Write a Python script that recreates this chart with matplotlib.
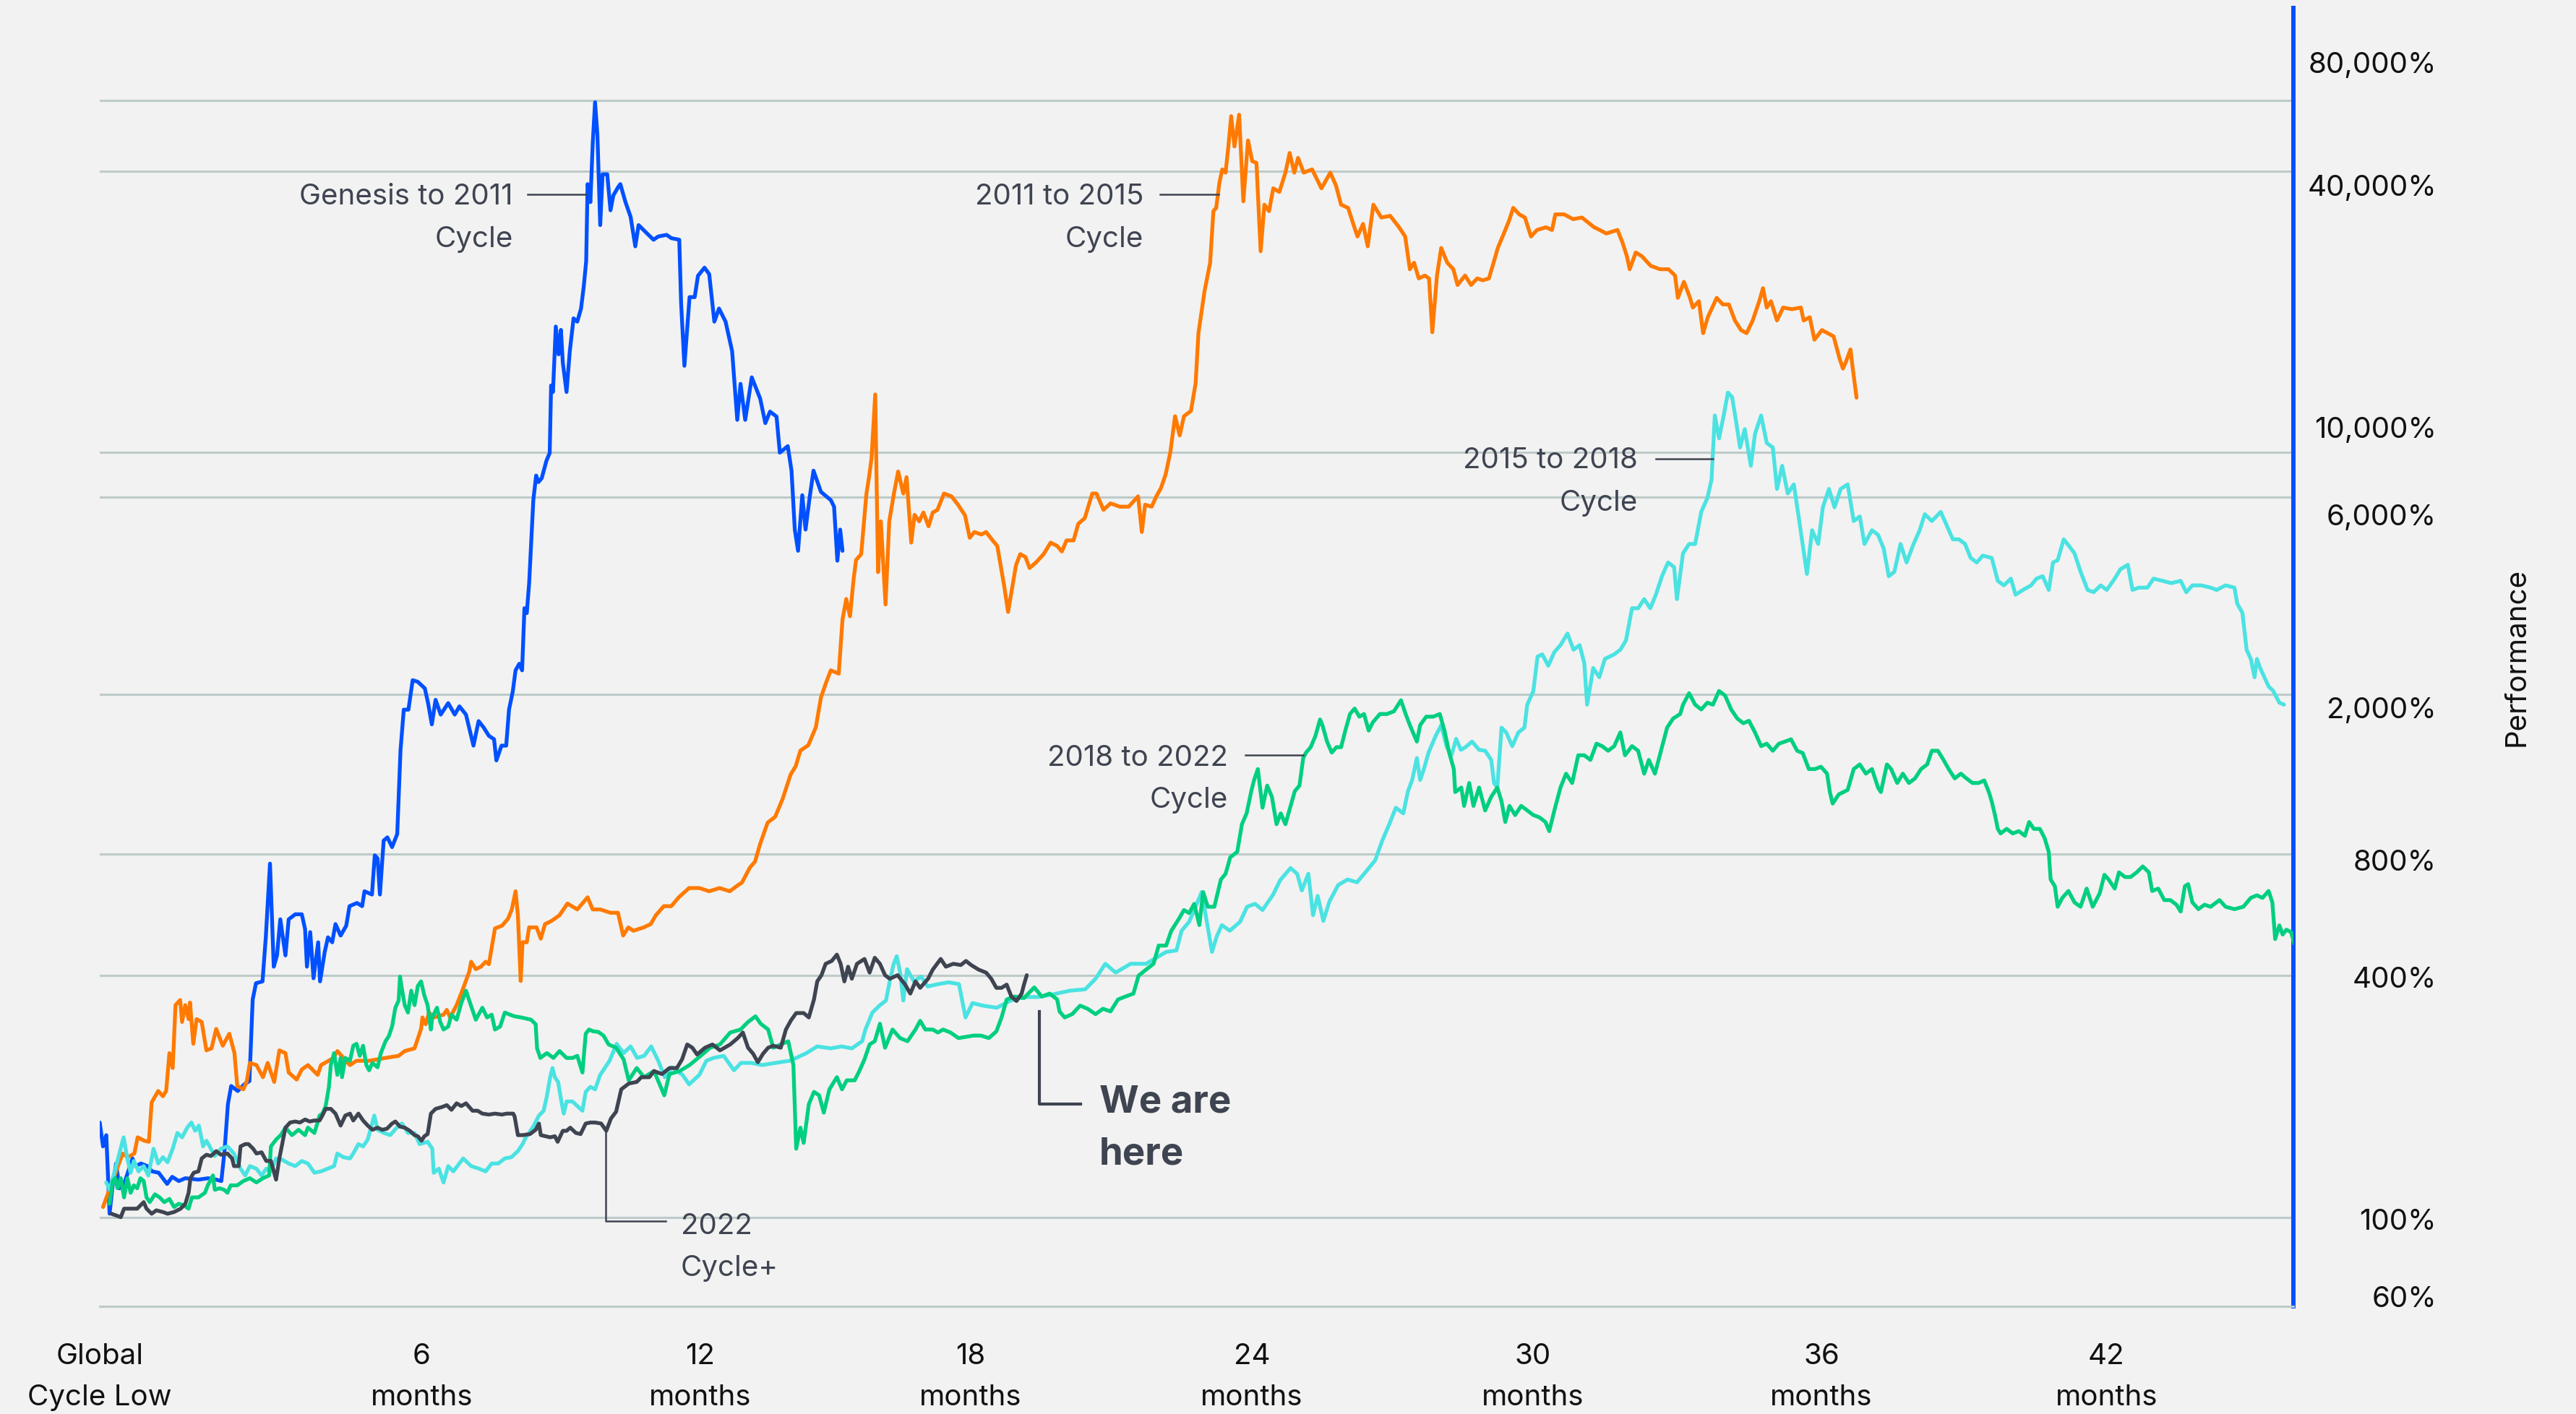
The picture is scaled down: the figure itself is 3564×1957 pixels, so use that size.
import matplotlib
matplotlib.use("Agg")
import matplotlib.pyplot as plt
from matplotlib.lines import Line2D
from matplotlib.ticker import FixedLocator, NullLocator
from matplotlib.transforms import ScaledTranslation

plt.rcParams['font.family'] = ['Inter', 'DejaVu Sans']

# ---------------- data: (months since global cycle low, performance %) ----------------
genesis_to_2011 = [(0.00,172),(0.07,150),(0.14,160),(0.21,102),(0.28,121),(0.35,136),(0.42,118),(0.53,122),(0.60,129),(0.70,140),(0.77,134),(0.88,136),(1.02,134),(1.12,130),(1.26,129),(1.44,121),(1.55,126),(1.69,123),(1.83,125),(2.11,124),(2.32,125),(2.49,124),(2.60,123),(2.67,147),(2.74,191),(2.81,212),(2.95,206),(3.09,214),(3.20,218),(3.27,348),(3.34,382),(3.48,386),(3.55,497),(3.64,758),(3.72,420),(3.79,448),(3.86,551),(3.97,448),(4.04,551),(4.18,567),(4.32,567),(4.39,521),(4.43,420),(4.50,512),(4.57,393),(4.67,483),(4.71,386),(4.81,457),(4.88,497),(4.97,483),(5.04,536),(5.15,502),(5.27,531),(5.34,594),(5.50,605),(5.61,594),(5.66,647),(5.82,635),(5.88,795),(5.94,781),(5.99,635),(6.07,865),(6.15,881),(6.25,833),(6.36,898),(6.43,1449),(6.50,1831),(6.60,1831),(6.69,2168),(6.80,2148),(6.95,2069),(7.02,1901),(7.10,1683),(7.18,1937),(7.29,1780),(7.45,1901),(7.59,1780),(7.69,1866),(7.83,1780),(7.99,1490),(8.10,1715),(8.21,1652),(8.32,1576),(8.43,1546),(8.48,1369),(8.59,1490),(8.69,1490),(8.75,1831),(8.83,2030),(8.89,2294),(8.97,2382),(9.03,2294),(9.08,3275),(9.13,3184),(9.18,3771),(9.27,6083),(9.33,7001),(9.38,6744),(9.45,6900),(9.55,7618),(9.62,7970),(9.65,11730),(9.69,11300),(9.75,16440),(9.81,14020),(9.86,16130),(9.90,13380),(9.98,11300),(10.05,14280),(10.13,17230),(10.21,16910),(10.29,18230),(10.35,20790),(10.40,23920),(10.43,37180),(10.49,33540),(10.54,46990),(10.59,59430),(10.64,49270),(10.70,29400),(10.75,39330),(10.85,39330),(10.92,32000),(10.98,34830),(11.08,36490),(11.13,37180),(11.24,33540),(11.35,30820),(11.45,26030),(11.52,29400),(11.66,28330),(11.84,27030),(11.94,27540),(12.12,27800),(12.22,27280),(12.39,27030),(12.43,18750),(12.50,13130),(12.61,19460),(12.72,19460),(12.79,21990),(12.93,23040),(13.03,22200),(13.14,16910),(13.24,18230),(13.38,16910),(13.52,14280),(13.63,9632),(13.70,11840),(13.80,9632),(13.94,12290),(14.12,10880),(14.23,9455),(14.33,10100),(14.47,9815),(14.54,7983),(14.71,8287),(14.79,7201),(14.86,5138),(14.93,4549),(15.02,6256),(15.09,5138),(15.17,6083),(15.26,7201),(15.42,6375),(15.63,6083),(15.70,5858),(15.77,4298),(15.83,5138),(15.88,4549)]

cycle_2011_2015 = [(0.07,106),(0.49,144),(0.60,141),(0.74,144),(0.81,158),(0.95,155),(1.05,154),(1.11,193),(1.25,206),(1.35,200),(1.42,206),(1.49,256),(1.56,235),(1.62,337),(1.72,347),(1.76,306),(1.83,337),(1.90,311),(1.93,342),(2.00,270),(2.07,311),(2.18,306),(2.28,260),(2.39,263),(2.49,294),(2.63,267),(2.77,286),(2.88,256),(2.94,212),(3.07,208),(3.14,217),(3.21,242),(3.35,239),(3.49,223),(3.59,242),(3.73,217),(3.84,260),(3.97,256),(4.04,229),(4.21,220),(4.32,233),(4.45,239),(4.66,226),(4.73,239),(5.00,249),(5.08,259),(5.35,239),(5.49,245),(5.76,245),(6.11,249),(6.39,252),(6.52,259),(6.73,263),(6.80,278),(6.87,294),(6.90,314),(6.97,302),(7.04,323),(7.14,314),(7.35,319),(7.42,328),(7.49,314),(7.63,337),(7.77,371),(7.90,408),(7.94,432),(8.04,414),(8.15,420),(8.25,432),(8.32,426),(8.45,523),(8.60,531),(8.73,553),(8.81,583),(8.89,647),(8.94,564),(9.00,387),(9.04,483),(9.13,483),(9.18,526),(9.34,526),(9.43,493),(9.52,536),(9.66,546),(9.83,564),(10.00,603),(10.21,583),(10.43,625),(10.54,583),(10.70,583),(10.92,572),(11.08,572),(11.19,502),(11.30,526),(11.41,516),(11.63,526),(11.78,536),(11.89,564),(12.06,594),(12.22,594),(12.38,625),(12.60,659),(12.82,659),(13.03,647),(13.25,659),(13.47,647),(13.63,668),(13.73,680),(13.90,741),(14.01,767),(14.12,849),(14.28,959),(14.44,991),(14.60,1098),(14.77,1262),(14.88,1325),(14.98,1448),(15.15,1494),(15.31,1656),(15.42,1965),(15.53,2139),(15.63,2294),(15.80,2251),(15.88,3068),(15.96,3452),(16.04,3126),(16.12,3892),(16.17,4315),(16.28,4464),(16.39,6286),(16.45,6970),(16.50,7720),(16.58,11140),(16.64,4026),(16.70,5386),(16.80,3345),(16.88,5386),(16.98,6316),(17.07,7168),(17.18,6316),(17.25,6937),(17.35,4768),(17.42,5592),(17.52,5386),(17.61,5666),(17.72,5236),(17.81,5666),(17.91,5752),(18.05,6316),(18.21,6216),(18.35,5925),(18.50,5570),(18.60,4902),(18.70,5066),(18.85,4995),(18.95,5066),(19.09,4829),(19.19,4677),(19.24,4323),(19.34,3700),(19.42,3205),(19.49,3577),(19.59,4193),(19.68,4464),(19.79,4393),(19.88,4122),(20.02,4259),(20.18,4464),(20.33,4768),(20.47,4677),(20.57,4532),(20.67,4829),(20.82,4829),(20.92,5309),(21.06,5487),(21.22,6316),(21.31,6316),(21.46,5752),(21.61,5970),(21.81,5858),(22.00,5858),(22.20,6216),(22.28,5066),(22.35,5925),(22.49,5858),(22.59,6216),(22.69,6521),(22.79,7055),(22.89,8008),(22.99,9833),(23.09,8810),(23.18,9833),(23.33,10140),(23.43,11880),(23.49,15830),(23.62,20120),(23.74,23700),(23.81,31850),(23.87,32450),(23.94,37590),(24.00,40450),(24.07,39710),(24.13,46130),(24.19,54870),(24.26,46130),(24.36,55330),(24.45,33690),(24.55,47760),(24.64,42400),(24.73,42000),(24.82,25310),(24.90,33040),(25.00,31850),(25.09,36290),(25.22,35550),(25.35,39710),(25.44,44440),(25.54,39710),(25.62,43200),(25.74,39710),(25.92,40450),(26.12,36290),(26.31,39710),(26.43,36900),(26.54,33040),(26.69,32450),(26.80,29600),(26.89,27540),(27.01,29600),(27.11,26030),(27.23,33040),(27.40,30700),(27.59,31000),(27.78,29030),(27.91,27540),(28.01,22830),(28.10,23700),(28.20,21660),(28.33,22020),(28.42,21660),(28.49,15910),(28.59,22020),(28.68,25790),(28.81,23700),(28.94,22830),(29.03,20860),(29.19,22020),(29.32,20860),(29.45,21660),(29.57,21430),(29.70,21660),(29.80,23700),(29.89,25790),(30.02,28020),(30.13,30130),(30.22,32450),(30.35,31260),(30.47,30700),(30.60,27540),(30.73,28590),(30.92,29030),(31.05,28590),(31.12,31260),(31.31,31260),(31.50,30420),(31.69,30700),(31.95,29030),(32.07,28590),(32.21,28020),(32.45,28590),(32.56,26530),(32.65,24600),(32.71,22830),(32.84,25130),(32.97,24600),(33.16,23280),(33.36,22830),(33.54,22830),(33.68,22020),(33.74,19380),(33.87,21240),(34.00,19380),(34.06,18330),(34.19,19010),(34.28,15830),(34.38,17340),(34.57,19380),(34.70,18660),(34.83,18660),(34.96,17020),(35.09,16110),(35.21,15830),(35.34,17020),(35.48,19010),(35.56,20480),(35.64,18330),(35.73,19010),(35.86,17020),(35.99,18330),(36.18,18160),(36.37,18330),(36.43,17020),(36.56,17340),(36.66,15250),(36.82,16110),(36.94,15830),(37.07,15540),(37.20,13650),(37.27,12920),(37.33,13400),(37.43,14420),(37.48,12920),(37.56,10940)]

cycle_2015_2018 = [(0.14,122),(0.21,117),(0.32,130),(0.42,144),(0.51,158),(0.59,140),(0.66,129),(0.73,138),(0.83,130),(0.94,134),(1.04,127),(1.15,148),(1.25,136),(1.35,141),(1.45,137),(1.56,148),(1.66,162),(1.76,158),(1.87,167),(1.96,172),(2.04,164),(2.12,169),(2.21,150),(2.28,155),(2.35,150),(2.46,142),(2.59,148),(2.73,150),(2.87,144),(3.01,132),(3.11,127),(3.21,134),(3.35,132),(3.46,127),(3.56,132),(3.66,130),(3.77,140),(3.90,139),(4.04,136),(4.18,134),(4.32,138),(4.45,136),(4.59,129),(4.73,130),(4.87,132),(5.01,134),(5.08,144),(5.21,141),(5.35,140),(5.42,144),(5.53,152),(5.63,150),(5.73,156),(5.87,179),(5.94,165),(6.08,162),(6.21,160),(6.35,167),(6.46,171),(6.59,162),(6.73,162),(6.84,152),(7.01,154),(7.11,148),(7.14,129),(7.25,132),(7.35,122),(7.45,134),(7.56,130),(7.77,140),(7.94,134),(8.11,132),(8.25,130),(8.38,136),(8.52,136),(8.66,140),(8.80,141),(8.94,146),(9.04,152),(9.11,158),(9.18,162),(9.28,169),(9.39,179),(9.49,184),(9.56,200),(9.63,223),(9.68,235),(9.73,223),(9.80,217),(9.87,194),(9.92,181),(9.98,194),(10.11,194),(10.21,189),(10.32,184),(10.39,205),(10.49,211),(10.59,208),(10.70,226),(10.90,245),(11.05,270),(11.20,256),(11.35,266),(11.49,249),(11.64,252),(11.79,266),(11.94,245),(12.08,223),(12.23,236),(12.46,226),(12.60,214),(12.82,226),(12.97,245),(13.12,249),(13.34,252),(13.56,232),(13.71,242),(13.93,242),(14.16,239),(14.45,242),(14.75,245),(14.89,249),(15.11,256),(15.34,266),(15.63,263),(15.86,266),(16.08,263),(16.30,274),(16.37,293),(16.52,323),(16.67,336),(16.81,346),(16.89,386),(16.97,425),(17.04,446),(17.11,408),(17.18,346),(17.26,414),(17.41,386),(17.56,397),(17.70,375),(17.92,380),(18.15,384),(18.37,380),(18.51,314),(18.66,341),(18.88,336),(19.18,332),(19.48,346),(19.77,353),(20.07,353),(20.36,358),(20.74,366),(21.07,369),(21.29,392),(21.50,427),(21.72,406),(22.04,427),(22.37,427),(22.59,442),(22.80,457),(23.02,461),(23.13,516),(23.29,543),(23.40,581),(23.56,644),(23.67,543),(23.78,457),(23.88,499),(23.99,533),(24.16,516),(24.38,543),(24.53,592),(24.70,602),(24.86,581),(25.08,633),(25.24,690),(25.46,739),(25.60,715),(25.70,650),(25.84,715),(25.94,564),(26.04,630),(26.16,546),(26.29,610),(26.48,671),(26.68,692),(26.88,681),(27.08,726),(27.27,773),(27.42,865),(27.57,950),(27.71,1044),(27.87,1011),(27.97,1148),(28.06,1224),(28.16,1388),(28.23,1224),(28.31,1303),(28.41,1432),(28.56,1574),(28.68,1676),(28.80,1477),(28.90,1410),(29.00,1549),(29.10,1455),(29.20,1477),(29.34,1525),(29.49,1455),(29.62,1447),(29.75,1373),(29.81,1203),(29.88,1172),(29.97,1652),(30.07,1607),(30.20,1486),(30.33,1607),(30.46,1652),(30.52,1884),(30.65,2038),(30.74,2481),(30.84,2514),(30.97,2355),(31.10,2547),(31.23,2650),(31.38,2832),(31.51,2581),(31.64,2650),(31.74,2386),(31.80,1884),(31.93,2324),(32.06,2205),(32.18,2449),(32.38,2514),(32.51,2581),(32.63,2721),(32.76,3273),(32.89,3273),(33.02,3449),(33.15,3273),(33.27,3538),(33.40,3933),(33.53,4255),(33.66,4145),(33.72,3449),(33.85,4484),(33.98,4731),(34.11,4731),(34.24,5686),(34.37,6152),(34.46,6834),(34.53,9878),(34.62,8664),(34.72,9878),(34.81,11260),(34.90,10970),(34.98,9623),(35.07,8222),(35.17,9131),(35.30,7402),(35.39,8895),(35.52,9878),(35.64,8439),(35.77,8222),(35.86,6483),(35.97,7402),(36.09,6316),(36.22,6656),(36.35,5255),(36.50,3984),(36.61,5119),(36.74,4731),(36.84,5837),(36.97,6483),(37.09,5837),(37.22,6483),(37.37,6656),(37.50,5395),(37.63,5538),(37.73,4731),(37.89,5119),(38.02,4986),(38.14,4608),(38.25,3933),(38.37,4037),(38.50,4731),(38.63,4255),(38.78,4731),(38.91,5119),(39.02,5611),(39.17,5395),(39.36,5686),(39.49,5255),(39.62,4858),(39.75,4858),(39.88,4731),(40.00,4368),(40.13,4255),(40.26,4426),(40.45,4368),(40.58,3831),(40.71,3732),(40.86,3879),(40.96,3538),(41.12,3636),(41.29,3732),(41.41,3881),(41.54,3933),(41.67,3636),(41.76,4255),(41.86,4311),(41.99,4858),(42.11,4665),(42.22,4484),(42.35,4037),(42.50,3636),(42.63,3589),(42.78,3732),(42.91,3636),(43.08,3879),(43.20,4091),(43.36,4200),(43.46,3636),(43.59,3684),(43.78,3684),(43.91,3879),(44.10,3831),(44.29,3780),(44.49,3831),(44.61,3589),(44.74,3732),(44.93,3732),(45.13,3684),(45.26,3636),(45.45,3732),(45.64,3684),(45.70,3360),(45.81,3188),(45.90,2581),(45.99,2449),(46.07,2205),(46.12,2449),(46.19,2324),(46.28,2205),(46.37,2092),(46.47,2038),(46.60,1906),(46.70,1884)]

cycle_2018_2022 = [(0.21,108),(0.28,123),(0.33,125),(0.38,118),(0.45,125),(0.52,112),(0.59,125),(0.66,115),(0.73,120),(0.80,118),(0.87,125),(0.94,123),(1.00,112),(1.07,109),(1.18,114),(1.28,112),(1.38,109),(1.49,111),(1.59,106),(1.69,108),(1.80,107),(1.90,105),(1.97,112),(2.11,112),(2.25,115),(2.31,120),(2.42,127),(2.46,117),(2.56,118),(2.66,117),(2.73,115),(2.80,120),(2.94,120),(3.07,123),(3.21,125),(3.35,122),(3.49,125),(3.62,127),(3.66,150),(3.77,156),(3.87,160),(3.97,167),(4.11,160),(4.25,165),(4.39,160),(4.45,167),(4.59,162),(4.70,179),(4.76,181),(4.83,189),(4.90,211),(4.94,239),(5.01,256),(5.08,226),(5.15,249),(5.18,223),(5.25,249),(5.35,245),(5.42,267),(5.49,270),(5.56,252),(5.63,267),(5.70,239),(5.76,232),(5.83,242),(5.94,236),(6.01,256),(6.11,274),(6.18,282),(6.25,298),(6.32,332),(6.39,346),(6.42,397),(6.45,376),(6.52,337),(6.59,323),(6.66,366),(6.73,337),(6.80,376),(6.87,386),(6.94,356),(7.01,337),(7.08,293),(7.11,314),(7.21,332),(7.28,306),(7.35,293),(7.45,298),(7.52,319),(7.63,310),(7.73,341),(7.83,366),(7.90,346),(8.04,310),(8.18,332),(8.28,314),(8.38,319),(8.45,293),(8.56,298),(8.66,323),(8.77,319),(8.87,316),(9.01,314),(9.22,310),(9.32,302),(9.35,263),(9.42,249),(9.56,256),(9.70,249),(9.83,259),(9.98,249),(10.11,249),(10.21,252),(10.32,229),(10.39,286),(10.46,293),(10.55,290),(10.66,289),(10.77,283),(10.88,269),(11.04,264),(11.20,247),(11.31,219),(11.48,235),(11.64,223),(11.85,231),(12.07,201),(12.18,227),(12.40,231),(12.61,239),(12.83,251),(13.05,264),(13.26,269),(13.48,288),(13.70,293),(13.86,306),(14.02,316),(14.13,303),(14.29,293),(14.40,264),(14.56,269),(14.72,274),(14.83,239),(14.89,148),(14.98,167),(15.05,153),(15.16,191),(15.27,205),(15.38,201),(15.48,182),(15.60,208),(15.76,223),(15.87,208),(15.97,219),(16.14,219),(16.24,231),(16.35,247),(16.46,269),(16.57,274),(16.68,303),(16.79,264),(16.95,293),(17.11,279),(17.27,274),(17.44,293),(17.54,308),(17.65,293),(17.81,293),(17.92,288),(18.03,293),(18.19,288),(18.36,279),(18.52,281),(18.68,283),(18.84,283),(19.01,279),(19.17,290),(19.28,314),(19.39,348),(19.55,354),(19.76,351),(19.98,373),(20.14,354),(20.31,360),(20.47,348),(20.52,325),(20.63,314),(20.79,320),(20.96,336),(21.12,330),(21.29,320),(21.45,330),(21.61,325),(21.77,348),(21.93,354),(22.10,360),(22.21,399),(22.37,413),(22.53,427),(22.64,474),(22.80,474),(22.91,516),(23.07,552),(23.18,581),(23.29,571),(23.40,602),(23.51,533),(23.59,644),(23.69,592),(23.83,592),(23.97,692),(24.07,715),(24.17,786),(24.32,811),(24.42,950),(24.52,1011),(24.62,1148),(24.68,1224),(24.76,1303),(24.86,1044),(24.96,1185),(25.06,1112),(25.16,950),(25.25,1011),(25.35,950),(25.45,1044),(25.55,1148),(25.65,1185),(25.73,1388),(25.79,1432),(25.89,1477),(25.99,1574),(26.09,1731),(26.14,1676),(26.24,1525),(26.34,1432),(26.44,1477),(26.54,1477),(26.63,1624),(26.73,1786),(26.83,1843),(26.93,1759),(27.03,1786),(27.13,1624),(27.22,1704),(27.37,1786),(27.52,1786),(27.67,1814),(27.82,1932),(27.92,1786),(28.01,1676),(28.16,1525),(28.23,1676),(28.36,1759),(28.51,1759),(28.65,1786),(28.75,1624),(28.85,1432),(28.95,1303),(28.98,1142),(29.11,1172),(29.17,1055),(29.28,1203),(29.37,1055),(29.49,1172),(29.62,1028),(29.75,1112),(29.88,1172),(29.97,1083),(30.05,962),(30.14,1055),(30.26,1001),(30.39,1055),(30.52,1028),(30.65,1001),(30.78,988),(30.91,962),(30.99,913),(31.10,1028),(31.23,1172),(31.35,1269),(31.48,1203),(31.61,1410),(31.74,1410),(31.87,1373),(32.00,1507),(32.12,1486),(32.25,1447),(32.38,1486),(32.51,1607),(32.61,1410),(32.76,1486),(32.89,1447),(33.02,1269),(33.12,1373),(33.25,1269),(33.38,1447),(33.51,1652),(33.64,1741),(33.79,1786),(33.85,1884),(33.98,2012),(34.11,1884),(34.24,1833),(34.37,1906),(34.49,1884),(34.62,2038),(34.75,1985),(34.88,1833),(35.01,1741),(35.14,1694),(35.26,1718),(35.39,1607),(35.52,1486),(35.64,1507),(35.77,1447),(35.90,1507),(36.03,1525),(36.16,1545),(36.29,1447),(36.41,1428),(36.54,1303),(36.67,1303),(36.80,1320),(36.93,1269),(36.99,1142),(37.05,1069),(37.18,1127),(37.37,1156),(37.50,1303),(37.63,1338),(37.76,1269),(37.89,1303),(38.02,1172),(38.08,1142),(38.21,1338),(38.30,1303),(38.43,1203),(38.55,1269),(38.68,1203),(38.81,1235),(38.94,1303),(39.07,1338),(39.17,1447),(39.30,1447),(39.42,1373),(39.53,1303),(39.66,1235),(39.79,1269),(39.91,1235),(40.04,1203),(40.17,1203),(40.29,1221),(40.39,1142),(40.45,1083),(40.52,1001),(40.58,925),(40.64,901),(40.77,925),(40.90,901),(41.03,913),(41.16,889),(41.25,962),(41.35,925),(41.48,925),(41.58,878),(41.67,811),(41.71,692),(41.80,666),(41.86,592),(41.96,623),(42.09,648),(42.22,607),(42.35,592),(42.48,657),(42.61,592),(42.76,640),(42.86,711),(42.95,692),(43.08,657),(43.17,721),(43.30,702),(43.42,702),(43.55,721),(43.68,746),(43.81,721),(43.88,648),(44.01,657),(44.14,615),(44.27,615),(44.40,599),(44.49,576),(44.58,666),(44.65,674),(44.74,607),(44.87,584),(45.00,599),(45.13,592),(45.32,615),(45.45,592),(45.64,584),(45.83,592),(45.99,623),(46.12,632),(46.24,623),(46.37,648),(46.45,607),(46.51,492),(46.60,532),(46.67,505),(46.75,519),(46.85,512),(46.92,479)]

cycle_2022_plus = [(0.25,102),(0.35,101),(0.45,100),(0.52,105),(0.59,105),(0.70,105),(0.80,105),(0.94,109),(1.00,105),(1.11,102),(1.21,104),(1.35,103),(1.45,102),(1.59,103),(1.73,105),(1.83,108),(1.90,115),(1.94,125),(2.01,129),(2.11,130),(2.18,140),(2.28,143),(2.38,142),(2.49,146),(2.59,143),(2.73,144),(2.83,140),(2.87,134),(2.97,134),(3.01,150),(3.11,152),(3.18,152),(3.28,148),(3.35,144),(3.46,145),(3.56,138),(3.66,138),(3.73,129),(3.77,124),(3.84,140),(3.90,152),(3.97,167),(4.07,172),(4.18,173),(4.28,172),(4.39,175),(4.49,173),(4.59,174),(4.70,174),(4.76,179),(4.83,186),(4.94,186),(5.04,181),(5.15,169),(5.25,179),(5.35,181),(5.42,174),(5.53,181),(5.63,174),(5.73,169),(5.83,165),(5.94,167),(6.04,165),(6.14,166),(6.25,171),(6.32,173),(6.42,168),(6.52,167),(6.63,164),(6.73,160),(6.80,159),(6.88,155),(6.94,159),(7.01,161),(7.08,181),(7.18,186),(7.32,188),(7.42,190),(7.52,185),(7.63,192),(7.73,189),(7.83,192),(7.97,184),(8.08,184),(8.18,181),(8.32,180),(8.45,181),(8.60,180),(8.70,181),(8.84,181),(8.87,178),(8.94,160),(9.04,160),(9.20,161),(9.32,165),(9.39,171),(9.43,160),(9.53,159),(9.63,158),(9.73,159),(9.79,154),(9.90,164),(9.98,164),(10.06,167),(10.18,162),(10.28,161),(10.39,171),(10.49,172),(10.59,172),(10.72,171),(10.83,164),(10.93,176),(11.04,183),(11.15,208),(11.31,215),(11.48,217),(11.58,223),(11.75,223),(11.85,231),(12.02,227),(12.18,235),(12.34,235),(12.45,247),(12.56,269),(12.67,264),(12.77,254),(12.94,264),(13.10,269),(13.26,260),(13.48,269),(13.64,279),(13.75,288),(13.86,264),(13.97,255),(14.07,243),(14.18,255),(14.29,264),(14.40,267),(14.56,264),(14.67,293),(14.78,309),(14.89,322),(15.05,322),(15.16,314),(15.27,348),(15.34,386),(15.43,400),(15.52,427),(15.65,434),(15.76,450),(15.84,427),(15.92,386),(16.00,420),(16.08,392),(16.19,427),(16.35,439),(16.46,406),(16.57,442),(16.68,427),(16.79,400),(16.89,392),(17.06,400),(17.22,379),(17.33,360),(17.44,386),(17.54,372),(17.71,392),(17.81,413),(17.98,439),(18.09,420),(18.25,427),(18.41,424),(18.52,434),(18.63,424),(18.79,413),(18.95,406),(19.06,392),(19.17,372),(19.28,372),(19.39,379),(19.49,354),(19.60,345),(19.71,360),(19.76,379),(19.82,400)]

x_tick_months = [0, 6.88, 12.83, 18.62, 24.63, 30.64, 36.81, 42.90]
x_tick_labels = ["Global\nCycle Low", "6\nmonths", "12\nmonths", "18\nmonths",
                 "24\nmonths", "30\nmonths", "36\nmonths", "42\nmonths"]
y_tick_values = [60, 100, 400, 800, 2000, 6000, 10000, 40000, 80000]
y_tick_labels = ["60%", "100%", "400%", "800%", "2,000%", "6,000%", "10,000%", "40,000%", "80,000%"]
grid_values = [100, 400, 800, 2000, 6200, 8000, 40000, 60000]

# ---------------- style ----------------
BG = '#F2F2F2'
GRID = '#BDCBC9'
BLUE = '#0050FF'
ORANGE = '#FF7A00'
CYAN = '#4BE2E2'
GREEN = '#00CF80'
GRAY = '#3F4451'
TXT = '#3F4451'
FS = 29
# vertical nudge (pixels, downward) of each right-hand tick label, as placed in the original
y_label_nudge_px = [-14, 2, 2, 7, 18, 16, 18, 18, 16]

W, H = 3564, 1958
fig = plt.figure(figsize=(W / 100, H / 100), dpi=100)
fig.patch.set_facecolor(BG)
ax = fig.add_axes([138 / W, 1 - 1809 / H, (3173 - 138) / W, (1809 - 12) / H])
ax.set_facecolor(BG)
ax.set_yscale('log')
ax.set_xlim(0, 46.9)
ax.set_ylim(60, 102000)

for g in grid_values:
    ax.axhline(g, color=GRID, lw=2.2, zorder=1)

series = [(genesis_to_2011, BLUE), (cycle_2011_2015, ORANGE), (cycle_2015_2018, CYAN),
          (cycle_2018_2022, GREEN), (cycle_2022_plus, GRAY)]
for i, (data, col) in enumerate(series):
    m, v = zip(*data)
    ax.plot(m, v, color=col, lw=3.8, solid_joinstyle='round', solid_capstyle='round', zorder=3 + i)

for s in ['top', 'left']:
    ax.spines[s].set_visible(False)
ax.spines['bottom'].set_color(GRID)
ax.spines['bottom'].set_linewidth(2.2)
ax.spines['right'].set_color(BLUE)
ax.spines['right'].set_linewidth(4.3)

ax.yaxis.tick_right()
ax.yaxis.set_major_locator(FixedLocator(y_tick_values))
ax.yaxis.set_minor_locator(NullLocator())
ax.set_yticklabels(y_tick_labels)
ax.tick_params(axis='y', which='both', length=0, pad=142.6, labelsize=FS, labelcolor='#111111')
for lab, dy in zip(ax.get_yticklabels(), y_label_nudge_px):
    lab.set_horizontalalignment('right')
    lab.set_transform(lab.get_transform() + ScaledTranslation(0, -dy / 100, fig.dpi_scale_trans))

ax.set_xticks(x_tick_months)
ax.set_xticklabels(x_tick_labels)
ax.xaxis.set_minor_locator(NullLocator())
ax.tick_params(axis='x', length=0, pad=36, labelsize=FS, labelcolor='#111111')
for lab in ax.get_xticklabels():
    lab.set_linespacing(1.7)

fig.text(3482 / W, 1 - 909 / H, "Performance", rotation=90, ha='center', va='center',
         fontsize=FS, color='#111111')


def ftext(px, py, s, **kw):
    fig.text(px / W, 1 - py / H, s, **kw)


def fline(xs, ys, **kw):
    fig.add_artist(Line2D([x / W for x in xs], [1 - y / H for y in ys],
                          transform=fig.transFigure, **kw))


lbl = dict(fontsize=FS, color=TXT, va='baseline')
# Genesis to 2011
ftext(710, 283, "Genesis to 2011", ha='right', **lbl)
ftext(710, 342, "Cycle", ha='right', **lbl)
fline([730, 811], [270, 270], color=TXT, lw=1.8)
# 2011 to 2015
ftext(1582, 283, "2011 to 2015", ha='right', **lbl)
ftext(1582, 342, "Cycle", ha='right', **lbl)
fline([1605, 1686], [270, 270], color=TXT, lw=1.8)
# 2015 to 2018
ftext(2266, 648, "2015 to 2018", ha='right', **lbl)
ftext(2266, 707, "Cycle", ha='right', **lbl)
fline([2291, 2370], [636, 636], color=TXT, lw=1.8)
# 2018 to 2022
ftext(1699, 1060, "2018 to 2022", ha='right', **lbl)
ftext(1699, 1118, "Cycle", ha='right', **lbl)
fline([1723, 1803], [1046, 1046], color=TXT, lw=1.8)
# 2022 Cycle+
ftext(942, 1708, "2022", ha='left', **lbl)
ftext(942, 1766, "Cycle+", ha='left', **lbl)
fline([838, 838, 921], [1565, 1691, 1691], color=TXT, lw=1.8)
# We are here
ftext(1521, 1540, "We are", ha='left', fontsize=38, fontweight='bold', color=TXT, va='baseline')
ftext(1521, 1611, "here", ha='left', fontsize=38, fontweight='bold', color=TXT, va='baseline')
fline([1438, 1438, 1495], [1401, 1529, 1529], color=TXT, lw=3.0)

fig.savefig("out.png", dpi=100, facecolor=BG)
